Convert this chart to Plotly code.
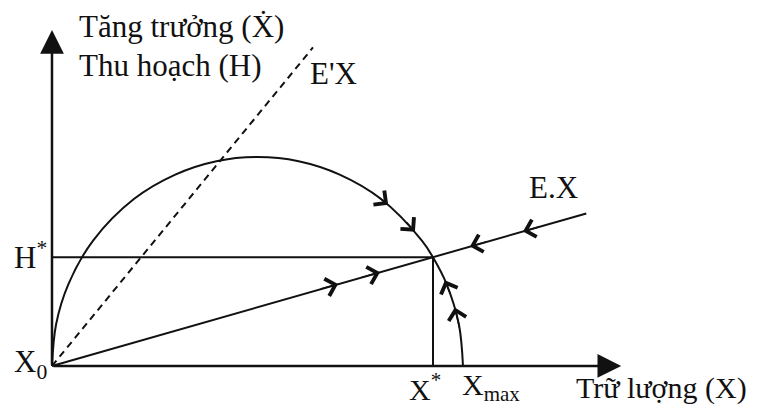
import plotly.graph_objects as go

# stock X (x axis) and natural growth X-dot (x_max = 10)
stock = [0, 0.1, 0.4, 1, 2, 3, 4, 5, 6, 7, 8, 9, 9.27, 9.6, 9.9, 10]
growth = [0, 1.0, 1.96, 3.0, 4.0, 4.58, 4.9, 5.0, 4.9, 4.58, 4.0, 3.0, 2.6, 1.96, 1.0, 0]

x_star = 9.27
h_star = 2.6

# harvest lines E.X (solid) and E'X (dashed)
ex_x = [0, 13.0]
ex_y = [0, 3.65]
e2x_x = [0, 6.35]
e2x_y = [0, 7.62]

# direction arrows: (head x, head y, tail x, tail y)
arrows = [
    (8.18, 3.86, 7.9, 4.07),
    (8.83, 3.21, 8.6, 3.47),
    (9.56, 2.05, 9.7, 1.71),
    (9.8, 1.4, 9.92, 0.89),
    (6.96, 1.96, 6.5, 1.83),
    (7.98, 2.24, 7.5, 2.11),
    (11.46, 3.22, 11.9, 3.34),
    (10.17, 2.86, 10.6, 2.98),
]

FONT = "Liberation Serif"
ink = "#111111"

fig = go.Figure()

fig.add_trace(go.Scatter(x=stock, y=growth, mode="lines",
                         line=dict(color=ink, width=2, shape="spline", smoothing=1.0)))
fig.add_trace(go.Scatter(x=[0, x_star], y=[h_star, h_star], mode="lines",
                         line=dict(color=ink, width=2)))
fig.add_trace(go.Scatter(x=[x_star, x_star], y=[0, h_star], mode="lines",
                         line=dict(color=ink, width=2)))
fig.add_trace(go.Scatter(x=ex_x, y=ex_y, mode="lines",
                         line=dict(color=ink, width=2)))
fig.add_trace(go.Scatter(x=e2x_x, y=e2x_y, mode="lines",
                         line=dict(color=ink, width=2, dash="7px,5px")))

# axes with arrow heads
fig.add_annotation(x=0, y=8.04, ax=0, ay=0, xref="x", yref="y", axref="x", ayref="y",
                   showarrow=True, arrowhead=2, arrowsize=1.9, arrowwidth=2.5,
                   arrowcolor=ink, text="")
fig.add_annotation(x=13.85, y=0, ax=0, ay=0, xref="x", yref="y", axref="x", ayref="y",
                   showarrow=True, arrowhead=2, arrowsize=1.9, arrowwidth=2.5,
                   arrowcolor=ink, text="")

for hx, hy, tx, ty in arrows:
    fig.add_annotation(x=hx, y=hy, ax=tx, ay=ty, xref="x", yref="y", axref="x", ayref="y",
                       showarrow=True, arrowhead=4, arrowsize=2.3, arrowwidth=1.5,
                       arrowcolor=ink, text="")

labels = [
    ("Tăng trưởng (Ẋ)", 0.61, 8.13, 31),
    ("Thu hoạch (H)", 0.61, 7.2, 31),
    ("E'X", 6.23, 7.0, 31),
    ("E.X", 11.56, 4.28, 31),
    ("H<sup>*</sup>", -0.97, 2.65, 31),
    ("X<sub>0</sub>", -0.97, 0.05, 31),
    ("X<sup>*</sup>", 8.64, -0.5, 30),
    ("X<sub>max</sub>", 9.93, -0.5, 30),
    ("Trữ lượng (X)", 12.7, -0.52, 30),
]
for txt, lx, ly, fs in labels:
    fig.add_annotation(x=lx, y=ly, xref="x", yref="y", text=txt, showarrow=False,
                       xanchor="left", yanchor="middle",
                       font=dict(family=FONT, size=fs, color=ink))

fig.update_layout(
    width=764,
    height=408,
    margin=dict(l=0, r=0, t=0, b=0),
    paper_bgcolor="white",
    plot_bgcolor="white",
    showlegend=False,
    xaxis=dict(range=[-1.265, 17.324], visible=False, fixedrange=True),
    yaxis=dict(range=[-1.005, 8.756], visible=False, fixedrange=True),
)

# drop the default 8px body margin so the figure sits at the window corner
fig.write_html("out.html", config={"displayModeBar": False},
               post_script="document.body.style.margin='0';")
